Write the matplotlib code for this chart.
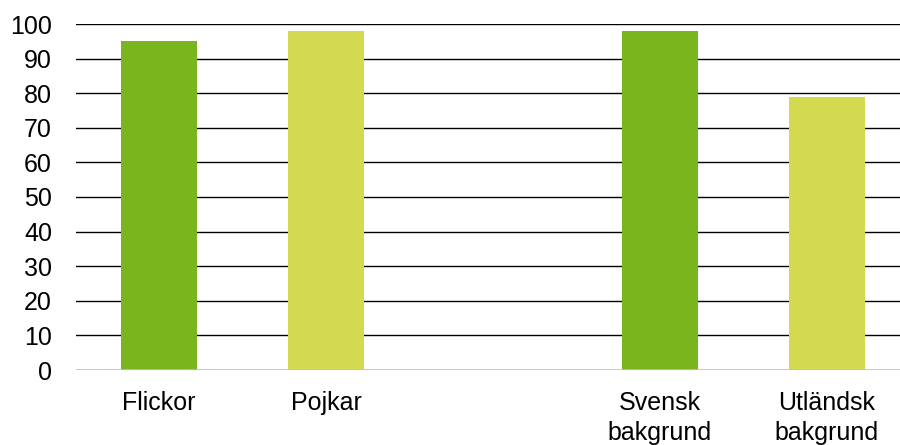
import matplotlib
matplotlib.use("Agg")
import matplotlib.pyplot as plt

categories = ["Flickor", "Pojkar", "", "Svensk\nbakgrund", "Utländsk\nbakgrund"]
values = [95, 98, None, 98, 79]
colors = ["#7AB51E", "#D4DA4F", None, "#7AB51E", "#D4DA4F"]
yticks = [0, 10, 20, 30, 40, 50, 60, 70, 80, 90, 100]

plt.rcParams['font.family'] = ['Liberation Sans', 'DejaVu Sans']

fig = plt.figure(figsize=(9, 4.45), dpi=100)
ax = fig.add_axes([75.5/900, 75/445, 835/900, 346/445])

for i, (v, c) in enumerate(zip(values, colors)):
    if v is not None:
        ax.bar(i, v, width=0.455, color=c, zorder=3)

ax.set_xlim(-0.5, 4.5)
ax.set_ylim(0, 100)
ax.set_yticks(yticks)
ax.set_xticks(range(len(categories)))
ax.set_xticklabels(categories, fontsize=18, linespacing=1.3)
ax.tick_params(axis='y', length=0, pad=17, labelsize=18)
ax.tick_params(axis='x', length=0, pad=15)

for y in yticks[1:]:
    ax.axhline(y, color="#000000", linewidth=1.0, zorder=1)
ax.axhline(0, color="#BFBFBF", linewidth=1.2, zorder=4)

for s in ax.spines.values():
    s.set_visible(False)

fig.savefig("out.png", dpi=100)
